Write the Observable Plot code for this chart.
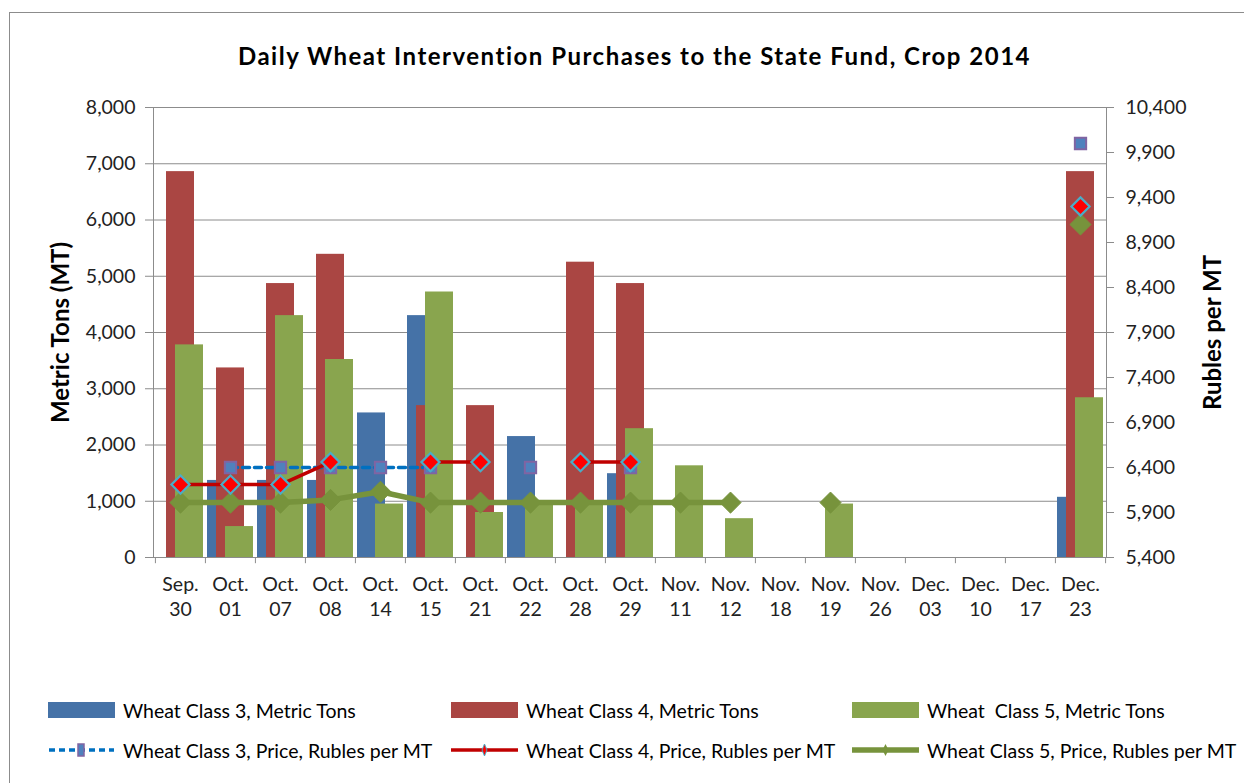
<!DOCTYPE html>
<html><head><meta charset="utf-8">
<script src="https://cdn.jsdelivr.net/npm/d3@7"></script>
<script src="https://cdn.jsdelivr.net/npm/@observablehq/plot@0.6"></script>
<style>
html,body{margin:0;padding:0;background:#fff;}
body{width:1244px;height:783px;overflow:hidden;position:relative;font-family:Lato,"Open Sans",sans-serif;color:#000;}
#frame{position:absolute;left:9px;top:12px;width:1260px;height:800px;border:1px solid #8c8c8c;box-sizing:border-box;}
#title{position:absolute;left:0;width:1269px;top:41px;text-align:center;font-weight:bold;font-size:24px;letter-spacing:1.5px;line-height:30px;}
#chart{position:absolute;left:0;top:85px;}
.lg{position:absolute;display:flex;align-items:center;font-size:19.5px;white-space:pre;}
.lg svg{margin-right:8px;}
</style>
</head><body>
<div id="frame"></div>
<div id="title">Daily Wheat Intervention Purchases to the State Fund, Crop 2014</div>
<div id="chart"></div>
<div id="legend"></div>
<script>
// ---- data ----
const months = ["Sep.","Oct.","Oct.","Oct.","Oct.","Oct.","Oct.","Oct.","Oct.","Oct.","Nov.","Nov.","Nov.","Nov.","Nov.","Dec.","Dec.","Dec.","Dec."];
const days   = ["30","01","07","08","14","15","21","22","28","29","11","12","18","19","26","03","10","17","23"];
const class3Tons = [null,1370,1370,1370,2570,4300,null,2150,null,1490,null,null,null,null,null,null,null,null,1070];
const class4Tons = [6860,3370,4870,5390,null,2700,2700,null,5250,4870,null,null,null,null,null,null,null,null,6860];
const class5Tons = [3780,550,4300,3520,950,4720,800,950,950,2290,1630,690,null,950,null,null,null,null,2840];
const class3Price = [null,6400,6400,6400,6400,6400,null,6400,null,6400,null,null,null,null,null,null,null,null,10000];
const class4Price = [6210,6210,6210,6460,null,6460,6460,null,6460,6460,null,null,null,null,null,null,null,null,9300];
const class5Price = [6010,6010,6010,6040,6130,6010,6010,6010,6010,6010,6010,6010,null,6010,null,null,null,null,9100];
const tonTicks = [0,1000,2000,3000,4000,5000,6000,7000,8000];
const priceTicks = [5400,5900,6400,6900,7400,7900,8400,8900,9400,9900,10400];
const seriesNames = ["Wheat Class 3, Metric Tons","Wheat Class 4, Metric Tons","Wheat  Class 5, Metric Tons",
  "Wheat Class 3, Price, Rubles per MT","Wheat Class 4, Price, Rubles per MT","Wheat Class 5, Price, Rubles per MT"];

// ---- build ----
const cats = months.map((m,i)=>m+" "+days[i]);
const rows = cats.map((c,i)=>({cat:c, t3:class3Tons[i], t4:class4Tons[i], t5:class5Tons[i], p3:class3Price[i], p4:class4Price[i], p5:class5Price[i]}));
const pMin = priceTicks[0], pMax = priceTicks[priceTicks.length-1];
const tMax = tonTicks[tonTicks.length-1];
const toY = p => p == null ? NaN : (p - pMin) * tMax / (pMax - pMin);
const fmt = d3.format(",");

const W = 1244, H = 560, mL = 153, mR = 138, mT = 22, mB = 88;
const bw = (W - mL - mR) / cats.length;

const C = {b3:"#4572A7", b4:"#AA4643", b5:"#89A54E", l3:"#0070C0", l4:"#C00000", l5:"#77933C", sq:"#4F81BD", sqS:"#8064A2", dS:"#4BACC6", d4:"#FF0000"};
const gray = "#8c8c8c";

const chart = Plot.plot({
  width: W, height: H, marginLeft: mL, marginRight: mR, marginTop: mT, marginBottom: mB,
  style: {fontFamily: "Lato, sans-serif", fontSize: "19.5px", color: "#000", background: "transparent"},
  x: {type: "band", domain: cats, padding: 0},
  y: {domain: [0, tMax]},
  marks: [
    Plot.gridY(tonTicks, {stroke: gray, strokeOpacity: 1}),
    Plot.barY(rows, {x: "cat", y: "t3", fill: C.b3, insetLeft: 2, insetRight: 20}),
    Plot.barY(rows, {x: "cat", y: "t4", fill: C.b4, insetLeft: 11, insetRight: 11}),
    Plot.barY(rows, {x: "cat", y: "t5", fill: C.b5, insetLeft: 20, insetRight: 2}),
    Plot.frame({stroke: gray}),
    Plot.line(rows, {x: "cat", y: d => toY(d.p3), stroke: C.l3, strokeWidth: 3.5, strokeDasharray: "7,5"}),
    Plot.line(rows, {x: "cat", y: d => toY(d.p4), stroke: C.l4, strokeWidth: 3.5}),
    Plot.line(rows, {x: "cat", y: d => toY(d.p5), stroke: C.l5, strokeWidth: 5.5}),
    Plot.dot(rows.filter(d => d.p5 != null), {x: "cat", y: d => toY(d.p5), symbol: "diamond2", r: 9.5, fill: C.l5, stroke: C.l5, strokeWidth: 1}),
    Plot.dot(rows.filter(d => d.p3 != null), {x: "cat", y: d => toY(d.p3), symbol: "square2", r: 7.2, fill: C.sq, stroke: C.sqS, strokeWidth: 2}),
    Plot.dot(rows.filter(d => d.p4 != null), {x: "cat", y: d => toY(d.p4), symbol: "diamond2", r: 8.2, fill: C.d4, stroke: C.dS, strokeWidth: 2.2}),
    Plot.axisY(tonTicks, {anchor: "left", tickSize: 8, tickPadding: 10, tickFormat: fmt, stroke: gray, fill: "#222", label: null, fontSize: 19.5}),
    Plot.axisY(priceTicks.map(toY), {anchor: "right", tickSize: 7, tickPadding: 12, tickFormat: v => fmt(Math.round(v * (pMax - pMin) / tMax + pMin)), stroke: gray, fill: "#222", label: null, fontSize: 19.5}),
    Plot.axisX({anchor: "bottom", tickSize: 0, tickPadding: 15, tickFormat: d => d.replace(" ", "\n"), lineHeight: 1.3, fill: "#222", label: null, fontSize: 19.5}),
    Plot.ruleX(cats, {x: d => d, dx: -bw/2, y1: 0, y2: -110, stroke: gray}),
    Plot.ruleX([cats[cats.length-1]], {x: d => d, dx: bw/2, y1: 0, y2: -110, stroke: gray}),
    Plot.text(["Metric Tons (MT)"], {frameAnchor: "left", dx: -92, rotate: -90, textAnchor: "middle", text: d => d, fontWeight: "bold", fontSize: 24, fill: "#000"}),
    Plot.text(["Rubles per MT"], {frameAnchor: "right", dx: 107, rotate: -90, textAnchor: "middle", text: d => d, fontWeight: "bold", fontSize: 24, fill: "#000"})
  ]
});
document.getElementById("chart").appendChild(chart);

// ---- legend ----
const lg = document.getElementById("legend");
const colX = [48, 451, 852];
const rowY = [710, 750];
const sw = [
  `<svg width="67" height="16"><rect x="0" y="0" width="67" height="16" fill="${C.b3}"/></svg>`,
  `<svg width="67" height="16"><rect x="0" y="0" width="67" height="16" fill="${C.b4}"/></svg>`,
  `<svg width="67" height="16"><rect x="0" y="0" width="67" height="16" fill="${C.b5}"/></svg>`,
  `<svg width="67" height="16"><line x1="1" x2="66" y1="8" y2="8" stroke="${C.l3}" stroke-width="3.5" stroke-dasharray="6,4"/><rect x="30" y="2" width="6" height="12" fill="${C.sq}" stroke="${C.sqS}" stroke-width="1.5"/></svg>`,
  `<svg width="67" height="16"><line x1="0" x2="67" y1="8" y2="8" stroke="${C.l4}" stroke-width="3.5"/><path d="M33.5,2 L36,8 L33.5,14 L31,8 Z" fill="${C.d4}" stroke="${C.dS}" stroke-width="1"/></svg>`,
  `<svg width="67" height="16"><line x1="0" x2="67" y1="8" y2="8" stroke="${C.l5}" stroke-width="5.5"/><path d="M33.5,2 L36.5,8 L33.5,14 L30.5,8 Z" fill="${C.l5}"/></svg>`
];
seriesNames.forEach((name, i) => {
  const d = document.createElement("div");
  d.className = "lg";
  d.style.left = colX[i % 3] + "px";
  d.style.top = (rowY[Math.floor(i / 3)] - 12) + "px";
  d.style.height = "24px";
  d.innerHTML = sw[i] + `<span>${name}</span>`;
  lg.appendChild(d);
});
</script>
</body></html>
